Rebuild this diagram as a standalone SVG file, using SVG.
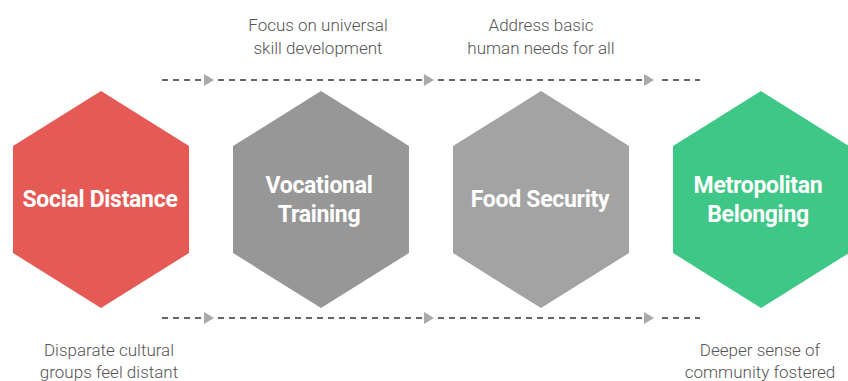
<svg xmlns="http://www.w3.org/2000/svg" width="848" height="381" viewBox="0 0 848 381">
  <defs>
    <marker id="tri" viewBox="0 0 10 12" refX="1" refY="6" markerWidth="10" markerHeight="12" markerUnits="userSpaceOnUse" orient="auto">
      <path d="M0,0 L10,6 L0,12 Z" fill="#aaaaaa"/>
    </marker>
    <style>
      .dash { fill: none; stroke: #666666; stroke-width: 2; stroke-dasharray: 6 5; }
      .hex-label { font-family: Roboto, "Liberation Sans", sans-serif; font-weight: 700; font-size: 23px; letter-spacing: -0.3px; fill: #ffffff; text-anchor: middle; }
      .note { font-family: Roboto, "Liberation Sans", sans-serif; font-weight: 300; font-size: 17px; fill: #555555; text-anchor: middle; }
    </style>
  </defs>
  <rect width="848" height="381" fill="#ffffff"/>

  <!-- dashed flow lines above and below the hexagon row -->
  <g id="connectors">
    <path class="dash" d="M162,80 H205" marker-end="url(#tri)"/>
    <path class="dash" d="M218,80 H425" marker-end="url(#tri)"/>
    <path class="dash" d="M438,80 H645" marker-end="url(#tri)"/>
    <path class="dash" d="M662,80 H700"/>
    <path class="dash" d="M162,318 H205" marker-end="url(#tri)"/>
    <path class="dash" d="M218,318 H425" marker-end="url(#tri)"/>
    <path class="dash" d="M438,318 H645" marker-end="url(#tri)"/>
    <path class="dash" d="M662,318 H700"/>
  </g>

  <g id="social-distance">
    <polygon points="101,91 189,146 189,253 101,308 13,253 13,146" fill="#e55a54"/>
    <text class="hex-label" x="100" y="207">Social Distance</text>
    <text class="note" x="109" y="356">Disparate cultural</text>
    <text class="note" x="109" y="378">groups feel distant</text>
  </g>

  <g id="vocational-training">
    <polygon points="321,91 409,146 409,253 321,308 233,253 233,146" fill="#979797"/>
    <text class="hex-label" x="319" y="193">Vocational</text>
    <text class="hex-label" x="319" y="222">Training</text>
    <text class="note" x="318" y="31">Focus on universal</text>
    <text class="note" x="318" y="54">skill development</text>
  </g>

  <g id="food-security">
    <polygon points="541,91 629,146 629,253 541,308 453,253 453,146" fill="#a3a3a3"/>
    <text class="hex-label" x="540" y="207">Food Security</text>
    <text class="note" x="541" y="31">Address basic</text>
    <text class="note" x="541" y="54">human needs for all</text>
  </g>

  <g id="metropolitan-belonging">
    <polygon points="761,91 849,146 849,253 761,308 673,253 673,146" fill="#3ec786"/>
    <text class="hex-label" x="758" y="193">Metropolitan</text>
    <text class="hex-label" x="758" y="222">Belonging</text>
    <text class="note" x="760" y="356">Deeper sense of</text>
    <text class="note" x="760" y="378">community fostered</text>
  </g>
</svg>
